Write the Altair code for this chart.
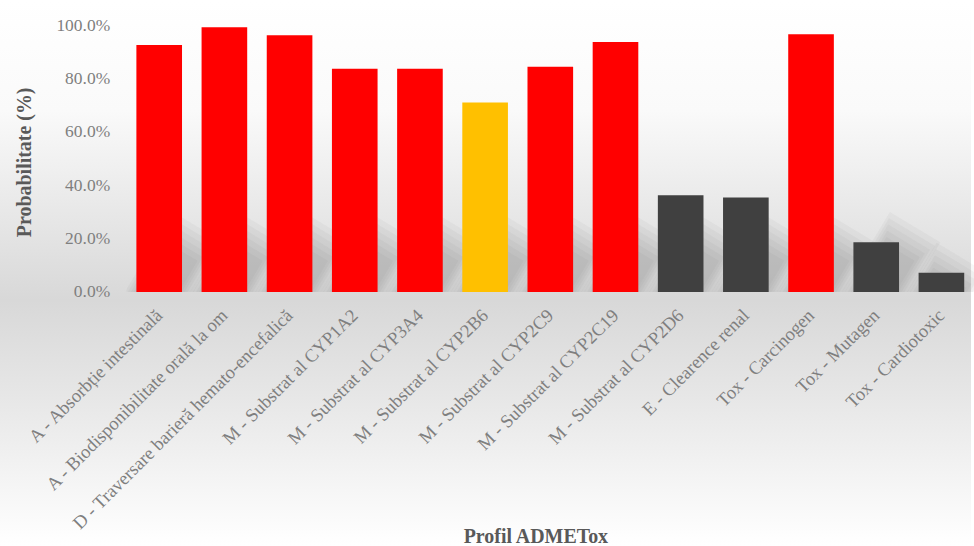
import altair as alt
import pandas as pd

categories = [
    "A - Absorbție intestinală",
    "A - Biodisponibilitate orală la om",
    "D - Traversare barieră hemato-encefalică",
    "M - Substrat al CYP1A2",
    "M - Substrat al CYP3A4",
    "M - Substrat al CYP2B6",
    "M - Substrat al CYP2C9",
    "M - Substrat al CYP2C19",
    "M - Substrat al CYP2D6",
    "E - Clearence renal",
    "Tox - Carcinogen",
    "Tox - Mutagen",
    "Tox - Cardiotoxic",
]
probabilities = [0.926, 0.993, 0.963, 0.837, 0.837, 0.710, 0.844, 0.937, 0.363, 0.354, 0.966, 0.186, 0.072]
levels = ["ridicat", "ridicat", "ridicat", "ridicat", "ridicat", "mediu", "ridicat", "ridicat",
          "scăzut", "scăzut", "ridicat", "scăzut", "scăzut"]

level_names = ["ridicat", "mediu", "scăzut"]
level_colors = ["#FF0000", "#FFC000", "#404040"]

df = pd.DataFrame({"profil": categories, "prob": probabilities, "nivel": levels})

FONT = "Times New Roman, Liberation Serif, serif"
W, H = 850, 267.5
LEFT, TOP = 127, 24.5
BOTTOM = 546 - TOP - H
N = len(categories)
STEP = W / N            # band step in px (paddingInner 0.3, paddingOuter 0.15)
LEAN = 0.6              # horizontal shift per unit of shadow height

# --- soft cast shadows: stacked translucent diagonal strokes from each bar base ---
rows = []
for i, v in enumerate(probabilities):
    hs = min(v * H * 1.1, 52.0)
    for lvl in range(6):
        top = max(hs - 12 + 5 * lvl, 4.0)
        rows.append({
            "sx0": (i + 0.5) - LEAN * 15 / STEP,
            "sy0": -15 / H,
            "sx1": (i + 0.5) + LEAN * top / STEP,
            "sy1": top / H,
            "sw": 34 + 5 * lvl,
        })
shadow_df = pd.DataFrame(rows)

shadows = alt.Chart(shadow_df).mark_rule(
    color="#5a5a5a", opacity=0.05, strokeCap="butt", clip=True
).encode(
    x=alt.X("sx0:Q", scale=alt.Scale(domain=[0, N], nice=False, zero=False), axis=None),
    x2="sx1:Q",
    y=alt.Y("sy0:Q"),
    y2="sy1:Q",
    size=alt.Size("sw:Q", scale=None, legend=None),
)

# soft grey backdrop that darkens toward the baseline and fades out below
backdrop = alt.Chart(pd.DataFrame({"k": [0]})).mark_rect(
    color=alt.Gradient(
        gradient="linear",
        x1=0, y1=0, x2=0, y2=1,
        stops=[
            alt.GradientStop(offset=0.0, color="#ffffff"),
            alt.GradientStop(offset=0.2, color="#fafafa"),
            alt.GradientStop(offset=0.55, color="#d8d8d8"),
            alt.GradientStop(offset=0.72, color="#e6e6e6"),
            alt.GradientStop(offset=1.0, color="#ffffff"),
        ],
    )
).encode(
    x=alt.value(-LEFT), x2=alt.value(974 - LEFT),
    y=alt.value(-TOP), y2=alt.value(546 - TOP),
)

bars = alt.Chart(df).mark_bar().encode(
    x=alt.X(
        "profil:N",
        sort=categories,
        scale=alt.Scale(paddingInner=0.3, paddingOuter=0.15),
        axis=alt.Axis(
            title="Profil ADMETox",
            zindex=1,
            labelAngle=-45,
            labelAlign="right",
            labelBaseline="middle",
            labelFont=FONT,
            labelFontSize=18.5,
            labelColor="#7f7f7f",
            labelPadding=20,
            labelLimit=400,
            domain=False,
            ticks=False,
            titleFont=FONT,
            titleFontSize=20,
            titleFontWeight="bold",
            titleColor="#595959",
            titleX=410,
            titleY=245,
            titleAnchor="middle",
            titleBaseline="middle",
        ),
    ),
    y=alt.Y(
        "prob:Q",
        scale=alt.Scale(domain=[0, 1], nice=False),
        axis=alt.Axis(
            title="Probabilitate (%)",
            zindex=1,
            format=".1%",
            values=[0, 0.2, 0.4, 0.6, 0.8, 1.0],
            labelFont=FONT,
            labelFontSize=17.5,
            labelColor="#7f7f7f",
            labelPadding=17,
            domain=False,
            ticks=False,
            grid=False,
            titleFont=FONT,
            titleFontSize=20,
            titleFontWeight="bold",
            titleColor="#595959",
            titleX=-102,
            titleY=137,
            titleAngle=-90,
            titleAnchor="middle",
            titleBaseline="middle",
        ),
    ),
    color=alt.Color(
        "nivel:N",
        scale=alt.Scale(domain=level_names, range=level_colors),
        legend=None,
    ),
)

chart = alt.layer(backdrop, shadows, bars).resolve_scale(x="independent").properties(
    width=W,
    height=H,
    autosize=alt.AutoSizeParams(type="none"),
    padding={"left": LEFT, "top": TOP, "right": 0, "bottom": BOTTOM},
    background="#ffffff",
).configure_view(stroke=None)

chart.save("out.html", embed_options={"renderer": "svg", "actions": False})
